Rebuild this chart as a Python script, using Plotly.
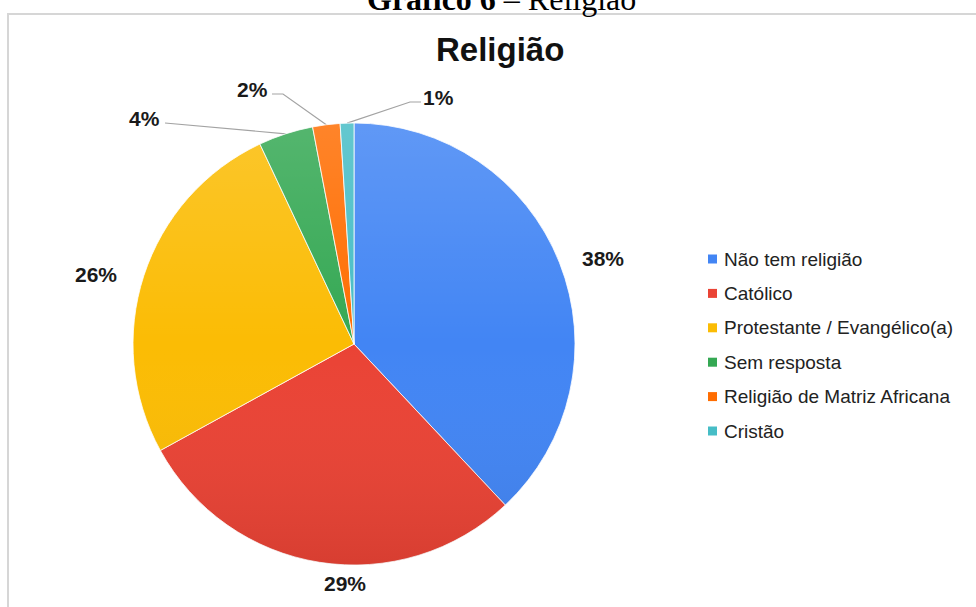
import math
import plotly.graph_objects as go

# Religion survey breakdown (percent of respondents)
categories = [
    "Não tem religião",
    "Católico",
    "Protestante / Evangélico(a)",
    "Sem resposta",
    "Religião de Matriz Africana",
    "Cristão",
]
percentages = [38, 29, 26, 4, 2, 1]
colors = ["#4285F4", "#EA4335", "#FBBC04", "#34A853", "#FF6D01", "#46BDC6"]

chart_title = "Religião"
caption_bold = "Gráfico 6"
caption_rest = " – Religião"

# ---- page geometry (pixel space; margins are zero so paper == page) ----
W, H = 976, 607
CX, CY, R = 354, 344, 221

# label centers and leader-line elbows (pixels)
label_layout = {
    "Não tem religião": dict(pos=(603, 258)),
    "Católico": dict(pos=(345, 583)),
    "Protestante / Evangélico(a)": dict(pos=(96, 274)),
    "Sem resposta": dict(pos=(144, 118), elbow=172, end=165),
    "Religião de Matriz Africana": dict(pos=(252, 89), elbow=283, end=272),
    "Cristão": dict(pos=(438, 97), elbow=410, end=421),
}

fig = go.Figure()

fig.add_trace(go.Pie(
    labels=categories,
    values=percentages,
    marker=dict(colors=colors, line=dict(color="white", width=0.8)),
    sort=False,
    direction="clockwise",
    rotation=0,
    textinfo="none",
    hoverinfo="label+percent",
    showlegend=False,
    domain=dict(
        x=[(CX - R) / W, (CX + R) / W],
        y=[1 - (CY + R) / H, 1 - (CY - R) / H],
    ),
))

# value labels, with leader lines for the thin slices
total = sum(percentages)
cum = 0.0
lx, ly = [], []
annotations = []
for cat, val in zip(categories, percentages):
    mid = (cum + val / 2) / total * 2 * math.pi
    cum += val
    spec = label_layout[cat]
    tx, ty = spec["pos"]
    annotations.append(dict(
        x=tx, y=ty, xref="x", yref="y", text=f"<b>{val}%</b>", showarrow=False,
        xanchor="center", yanchor="middle",
        font=dict(family="Liberation Sans, Arial, sans-serif", size=21, color="#1a1a1a"),
    ))
    if "elbow" in spec:
        sx = CX + R * math.sin(mid)
        sy = CY - R * math.cos(mid)
        yline = ty + 5
        lx += [sx, spec["elbow"], spec["end"], None]
        ly += [sy, yline, yline, None]

fig.add_trace(go.Scatter(
    x=lx, y=ly, mode="lines",
    line=dict(color="#a3a3a3", width=1.2),
    hoverinfo="skip", showlegend=False,
))

# legend drawn as swatches + text
legend_x, legend_y0, legend_step = 712.5, 259, 34.4
fig.add_trace(go.Scatter(
    x=[legend_x] * len(categories),
    y=[legend_y0 + i * legend_step for i in range(len(categories))],
    mode="markers",
    marker=dict(symbol="square", size=9, color=colors, line=dict(width=0)),
    hoverinfo="skip", showlegend=False,
))
for i, cat in enumerate(categories):
    annotations.append(dict(
        x=legend_x + 9.0, y=legend_y0 + i * legend_step, xref="x", yref="y",
        text=cat, showarrow=False, xanchor="left", yanchor="middle",
        font=dict(family="Liberation Sans, Arial, sans-serif", size=19, color="#222222"),
    ))

# chart title
annotations.append(dict(
    x=500, y=49, xref="x", yref="y", text=f"<b>{chart_title}</b>", showarrow=False,
    xanchor="center", yanchor="middle",
    font=dict(family="Liberation Sans, Arial, sans-serif", size=33, color="#111111"),
))
# caption above the frame
annotations.append(dict(
    x=501, y=19, xref="x", yref="y", text=f"<b>{caption_bold}</b>{caption_rest}",
    showarrow=False, xanchor="center", yanchor="bottom",
    font=dict(family="Liberation Serif, Times New Roman, serif", size=32, color="#000000"),
))

# soft top-light / bottom-shade on the pie
shade_svg = (
    "data:image/svg+xml;utf8,"
    "<svg xmlns='http://www.w3.org/2000/svg' width='100' height='100'>"
    "<defs><linearGradient id='g' x1='0' y1='0' x2='0' y2='1'>"
    "<stop offset='0' stop-color='white' stop-opacity='0.16'/>"
    "<stop offset='0.5' stop-color='white' stop-opacity='0'/>"
    "<stop offset='1' stop-color='black' stop-opacity='0.08'/>"
    "</linearGradient></defs>"
    "<circle cx='50' cy='50' r='50' fill='url(%23g)'/></svg>"
)

fig.update_layout(
    width=W, height=H,
    margin=dict(l=0, r=0, t=0, b=0),
    paper_bgcolor="white", plot_bgcolor="white",
    xaxis=dict(range=[0, W], visible=False, fixedrange=True),
    yaxis=dict(range=[H, 0], visible=False, fixedrange=True),
    annotations=annotations,
    shapes=[dict(
        type="rect", xref="x", yref="y", x0=8, y0=14, x1=W + 20, y1=H + 20,
        line=dict(color="#d6d6d6", width=2), fillcolor="rgba(0,0,0,0)", layer="below",
    )],
    images=[dict(
        source=shade_svg, xref="paper", yref="paper",
        x=(CX - R) / W, y=1 - (CY - R) / H, sizex=2 * R / W, sizey=2 * R / H,
        xanchor="left", yanchor="top", sizing="stretch", layer="above",
    )],
)

fig.write_html("out.html")
